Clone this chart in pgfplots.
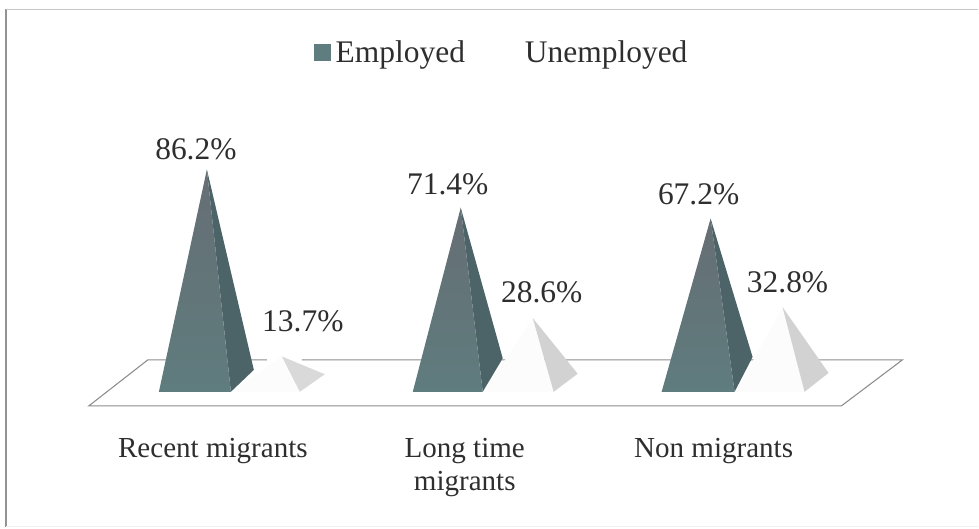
\documentclass[border=0pt]{standalone}
\usepackage{pgfplots}
\pgfplotsset{compat=1.18}
\usepackage{fontspec}
\setmainfont{Liberation Serif}
\definecolor{empFront}{HTML}{5F7C7E}
\definecolor{empTop}{HTML}{666E74}
\definecolor{empSide}{HTML}{4C6468}
\definecolor{unempFront}{HTML}{FCFCFC}
\definecolor{unempSide}{HTML}{D2D2D2}
\definecolor{floorline}{HTML}{8C8C8C}
\definecolor{labeltext}{HTML}{2E2E2E}
% Heights are in percent; one percent spans 2.58 units of drawing height.
\newcommand{\rowy}[1]{\fpeval{(392-#1)/2.58}}
\begin{document}
\begin{tikzpicture}
\begin{axis}[
  scale only axis, width=734.25pt, height=396.75pt,
  xmin=0, xmax=979, ymin=-53.10, ymax=151.94,
  hide axis, clip=false,
  legend columns=2,
  legend style={draw=none, fill=none, at={(0.5133,0.929)}, anchor=north,
    font=\fontsize{23.6pt}{26pt}\selectfont\color{labeltext},
    /tikz/every even column/.append style={column sep=29pt},
    inner sep=0pt},
  legend cell align=left,
]
% Invisible extent of the whole drawing
\addplot[forget plot, draw=none] coordinates {(0,-53.10)(979,151.94)};
% Frame
\addplot[forget plot, color=gray!85, line width=1.2pt] coordinates {(6,-52.3)(6,148.4)};
\addplot[forget plot, color=gray!45, line width=0.8pt] coordinates {(6,148.4)(979,148.4)};
\addplot[forget plot, color=gray!12, line width=0.8pt] coordinates {(6,-52.3)(979,-52.3)};

% Floor of the chart
\addplot[forget plot, color=floorline, line width=0.8pt] coordinates {(267,12.4)(148,12.4)(89,-5.43)(842,-5.43)(903,12.4)(302,12.4)};

% Employed pyramids: right face, front face
\addplot[forget plot, fill=empSide, draw=none] coordinates {(231,0)(254,8.5)(207,86.2)} -- cycle;
\addplot[forget plot, draw=none, top color=empTop, bottom color=empFront] coordinates {(159,0)(231,0)(207,86.2)} -- cycle;
\addplot[forget plot, fill=empSide, draw=none] coordinates {(483,0)(503,13)(461,71.4)} -- cycle;
\addplot[forget plot, draw=none, top color=empTop, bottom color=empFront] coordinates {(413,0)(483,0)(461,71.4)} -- cycle;
\addplot[forget plot, fill=empSide, draw=none] coordinates {(735,0)(753,13.5)(711,67.2)} -- cycle;
\addplot[forget plot, draw=none, top color=empTop, bottom color=empFront] coordinates {(662,0)(735,0)(711,67.2)} -- cycle;

% Unemployed pyramids: front face, right face
\addplot[forget plot, fill=unempFront, draw=none] coordinates {(232,0)(300,0)(282,13.7)} -- cycle;
\addplot[forget plot, fill=unempSide!85, draw=none] coordinates {(300,0)(325,6.8)(282,13.7)} -- cycle;
\addplot[forget plot, fill=unempFront, draw=none] coordinates {(484,0)(554,0)(533,28.6)} -- cycle;
\addplot[forget plot, fill=unempSide, draw=none] coordinates {(554,0)(578,7)(533,28.6)} -- cycle;
\addplot[forget plot, fill=unempFront, draw=none] coordinates {(736,0)(805,0)(783,32.8)} -- cycle;
\addplot[forget plot, fill=unempSide, draw=none] coordinates {(805,0)(829,7.3)(783,32.8)} -- cycle;

% Legend keys
\addlegendimage{only marks, mark=square*, mark size=6pt, color=empFront}
\addlegendentry{\hspace{2pt}Employed}
\addlegendimage{only marks, mark=square*, mark size=6pt, color=white}
\addlegendentry{Unemployed}

% Value labels
\tikzset{lbl/.style={anchor=base, inner sep=0pt, text=labeltext, font=\fontsize{23.6pt}{26pt}\selectfont}}
\node[lbl] at (axis cs:196,{\rowy{160}}) {86.2\%};
\node[lbl] at (axis cs:303,{\rowy{332}}) {13.7\%};
\node[lbl] at (axis cs:448,{\rowy{195}}) {71.4\%};
\node[lbl] at (axis cs:542,{\rowy{303}}) {28.6\%};
\node[lbl] at (axis cs:699,{\rowy{205}}) {67.2\%};
\node[lbl] at (axis cs:788,{\rowy{293}}) {32.8\%};

% Category labels
\tikzset{cat/.style={anchor=base, inner sep=0pt, text=labeltext, font=\fontsize{21.8pt}{24pt}\selectfont}}
\node[cat] at (axis cs:213,{\rowy{458}}) {Recent migrants};
\node[cat] at (axis cs:465,{\rowy{458}}) {Long time};
\node[cat] at (axis cs:465,{\rowy{491}}) {migrants};
\node[cat] at (axis cs:714,{\rowy{458}}) {Non migrants};
\end{axis}
\end{tikzpicture}
\end{document}
